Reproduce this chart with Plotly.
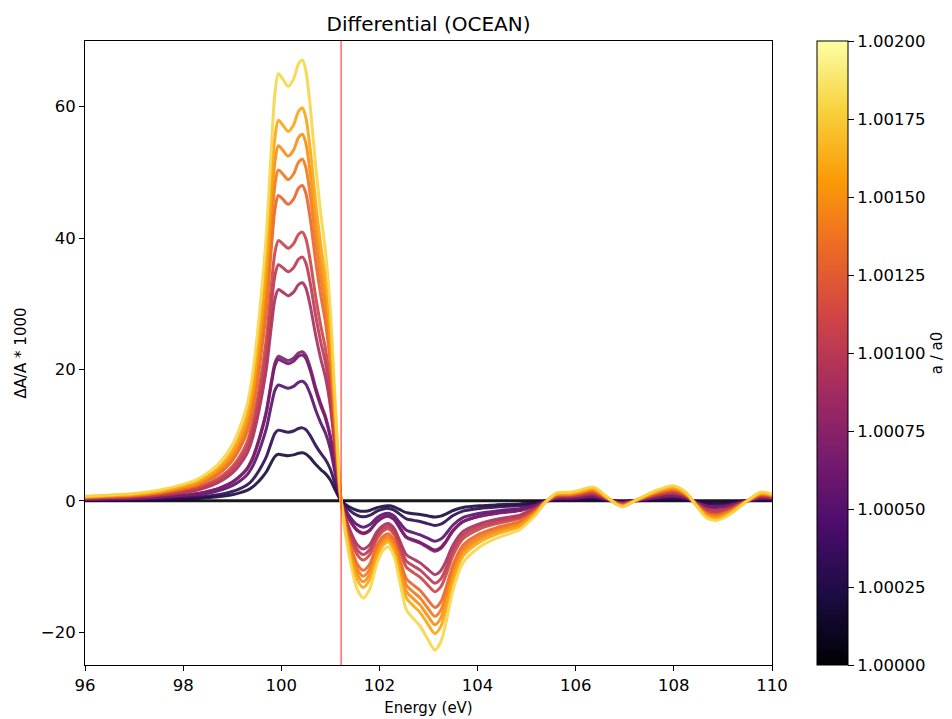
import plotly.graph_objects as go
from plotly.colors import sample_colorscale

# Energy grid (eV) and shape of the largest curve (a/a0 = 1.0018)
energy = [96.0, 96.5, 97.0, 97.5, 98.0, 98.3, 98.6, 98.8, 99.0, 99.15, 99.3, 99.4, 99.5,
          99.6, 99.7, 99.8, 99.87, 99.94, 100.03, 100.14, 100.25, 100.35, 100.43, 100.5,
          100.59, 100.7, 100.8, 100.9, 101.0, 101.1, 101.22, 101.4, 101.55, 101.67, 101.8,
          101.95, 102.08, 102.18, 102.3, 102.42, 102.55, 102.7, 102.83, 102.98, 103.13,
          103.25, 103.34, 103.5, 103.7, 104.05, 104.39, 104.73, 104.86, 105.07, 105.2,
          105.34, 105.44, 105.61, 105.88, 106.08, 106.36, 106.63, 106.84, 106.97, 107.24,
          107.58, 107.99, 108.26, 108.47, 108.67, 108.87, 109.14, 109.48, 109.76, 109.92, 110.0]
top_curve = [0.7, 0.9, 1.1, 1.6, 2.5, 3.3, 4.8, 6.3, 8.5, 11.0, 14.5, 18.5, 24.5,
             32.0, 41.0, 54.0, 62.0, 65.0, 64.2, 63.1, 64.2, 66.5, 67.1, 65.5,
             60.0, 51.0, 44.0, 38.0, 29.0, 15.0, 0.0, -9.0, -13.5, -14.8, -13.5,
             -9.5, -7.5, -7.0, -8.5, -12.5, -16.6, -18.0, -19.1, -21.0, -22.7,
             -21.5, -19.1, -13.6, -9.5, -7.0, -5.7, -4.8, -4.4, -3.0, -2.0,
             -0.6, 0.2, 1.2, 1.3, 1.6, 2.1, 0.65, -0.6, -0.9, 0.15,
             1.4, 2.3, 1.2, -0.9, -2.6, -3.0, -2.1, -0.1, 1.3, 1.2, 1.0]
top_peak = 67.1

# Curves: lattice ratio a/a0 and peak height of each curve
a_values = [1.0000, 1.0002, 1.0003, 1.0005, 1.0006, 1.0007, 1.0009, 1.0010,
            1.0011, 1.0013, 1.0014, 1.0015, 1.0016, 1.0018]
peak_heights = [0.0, 7.3, 11.1, 18.2, 22.2, 22.7, 33.2, 37.1,
                40.9, 48.0, 52.0, 55.8, 59.8, 67.1]

edge_energy = 101.22
cbar_min, cbar_max = 1.0, 1.002
cbar_ticks = [1.0, 1.00025, 1.0005, 1.00075, 1.001, 1.00125, 1.0015, 1.00175, 1.002]
x_ticks = [96, 98, 100, 102, 104, 106, 108, 110]
y_ticks = [-20, 0, 20, 40, 60]

FONT = "DejaVu Sans"
TICK = 16.5
fig = go.Figure()

norm = [(a - cbar_min) / (cbar_max - cbar_min) for a in a_values]
colors = sample_colorscale("Inferno", norm)

for a, h, c in zip(a_values, peak_heights, colors):
    scale = h / top_peak
    fig.add_trace(go.Scatter(
        x=energy, y=[v * scale for v in top_curve], mode="lines",
        line=dict(color=c, width=3, shape="spline", smoothing=0.8),
        opacity=0.9, showlegend=False, name=f"{a:.5f}",
        hoverinfo="skip"))

# colorbar carrier
fig.add_trace(go.Scatter(
    x=[energy[0], energy[0]], y=[0, 0], mode="markers",
    marker=dict(size=0.1, opacity=0, color=[cbar_min, cbar_max], colorscale="Inferno",
                cmin=cbar_min, cmax=cbar_max, showscale=True,
                colorbar=dict(
                    x=(817 - 85) / 687, xanchor="left", xref="paper", y=0.5, yanchor="middle",
                    xpad=0, ypad=0,
                    len=1.0, lenmode="fraction", thickness=31, thicknessmode="pixels",
                    outlinewidth=1, outlinecolor="black",
                    tickvals=cbar_ticks, tickformat=".5f", ticks="outside", ticklen=6,
                    tickcolor="black", tickfont=dict(family=FONT, size=TICK, color="black"),
                    title=dict(text="a / a0", side="right",
                               font=dict(family=FONT, size=15, color="black")),
                )),
    showlegend=False, hoverinfo="skip"))

fig.add_shape(type="line", x0=edge_energy, x1=edge_energy, y0=0, y1=1,
              xref="x", yref="paper", line=dict(color="rgba(255,0,0,0.5)", width=1.8),
              layer="above")

fig.update_layout(
    width=952, height=719,
    margin=dict(l=85, r=180, t=41, b=54, autoexpand=False),
    paper_bgcolor="white", plot_bgcolor="white",
    title=dict(text="Differential (OCEAN)", x=(85 + 772) / 2 / 952, xanchor="center",
               y=1 - 24 / 719, yanchor="middle",
               font=dict(family=FONT, size=20, color="black")),
    font=dict(family=FONT, size=15, color="black"),
    xaxis=dict(range=[96, 110], tickvals=x_ticks, showgrid=False, zeroline=False,
               showline=True, linecolor="black", linewidth=1, mirror=True,
               ticks="outside", ticklen=5, tickcolor="black",
               title=dict(text="Energy (eV)", standoff=8,
                          font=dict(family=FONT, size=15, color="black")),
               tickfont=dict(family=FONT, size=TICK, color="black")),
    yaxis=dict(range=[-25, 70], tickvals=y_ticks, showgrid=False, zeroline=False,
               showline=True, linecolor="black", linewidth=1, mirror=True,
               ticks="outside", ticklen=5, tickcolor="black",
               title=dict(text="ΔA/A * 1000", standoff=10,
                          font=dict(family=FONT, size=15, color="black")),
               tickfont=dict(family=FONT, size=TICK, color="black")),
)

fig.write_html("out.html", config={"displayModeBar": False},
               post_script="document.body.style.margin='0';document.body.style.overflow='hidden';")
